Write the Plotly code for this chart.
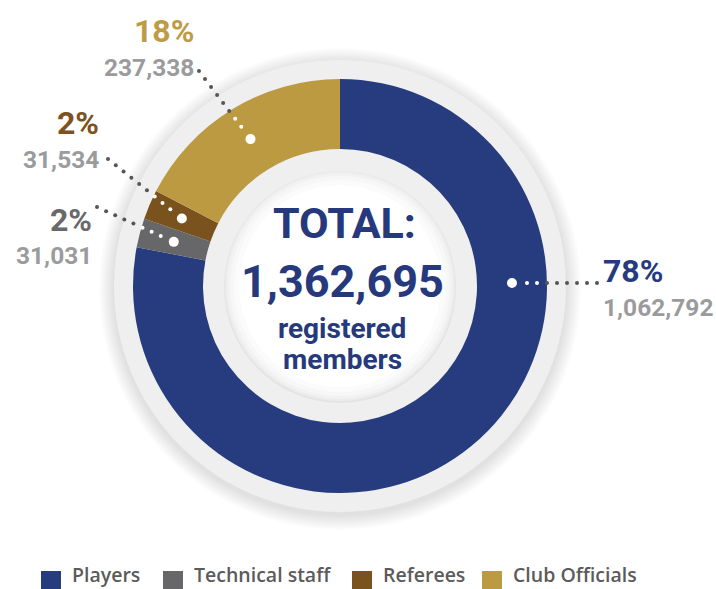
import math
import plotly.graph_objects as go

# Registered members by category
categories = ["Players", "Technical staff", "Referees", "Club Officials"]
members = [1062792, 31031, 31534, 237338]
pct_labels = ["78%", "2%", "2%", "18%"]

slice_colors = ["#263c7e", "#67676a", "#7a521e", "#bb9a42"]
pct_colors = ["#253a80", "#69696b", "#7b5220", "#bd9c45"]
num_color = "#9a9b9d"
total = sum(members)

W, H = 716, 589
CX, CY = 340, 286          # ring centre (px)
R_OUT, R_IN = 207, 137     # donut radii
R_RING = 226               # outer pale ring
R_CORE = 115               # white centre disc
R_MID = (R_OUT + R_IN) / 2

COND = "Roboto, DejaVu Sans Condensed, sans-serif"
LEG = "Open Sans, Noto Sans, sans-serif"

fig = go.Figure()

# empty trace so the pixel-space cartesian axes exist
fig.add_trace(go.Scatter(x=[], y=[], showlegend=False, hoverinfo="skip"))

fig.add_trace(go.Pie(
    labels=categories, values=members, hole=R_IN / R_OUT, sort=False,
    direction="clockwise", rotation=0,
    marker=dict(colors=slice_colors, line=dict(width=0)),
    textinfo="none", hoverinfo="label+value+percent", showlegend=False,
    domain=dict(x=[(CX - R_OUT) / W, (CX + R_OUT) / W],
                y=[1 - (CY + R_OUT) / H, 1 - (CY - R_OUT) / H]),
))

shapes = []


def circle(cx, cy, r, fill, opacity=1.0, layer="below"):
    shapes.append(dict(type="circle", xref="x", yref="y",
                       x0=cx - r, x1=cx + r, y0=cy - r, y1=cy + r,
                       fillcolor=fill, opacity=opacity,
                       line=dict(width=0), layer=layer))


# soft drop shadow around the outer ring
for k in range(10, 0, -1):
    circle(CX, CY + 3, R_RING + 1.5 * k, "#000000", 0.012)
circle(CX, CY, R_RING, "#efefef")
# white core with a faint inner shade
circle(CX, CY + 1, R_CORE + 1, "#e4e4e4")
for r, c in [(R_CORE, "#ececec"), (R_CORE - 2, "#f2f2f2"), (R_CORE - 5, "#f7f7f7"),
             (R_CORE - 9, "#fbfbfb"), (R_CORE - 14, "#ffffff")]:
    circle(CX, CY, r, c)

# slice anchor angles (deg clockwise from 12 o'clock)
angles = []
acc = 0
for v in members:
    angles.append((acc + v / 2) / total * 360)
    acc += v
angles[0] = 89  # players leader points to the 3 o'clock side


def polar(theta, r):
    t = math.radians(theta)
    return CX + r * math.sin(t), CY - r * math.cos(t)


# label layout: (pct x, pct y, num y, xanchor, leader start)
label_pos = {
    "Players": (601, 271, 307, "left", (597, 283)),
    "Technical staff": (94, 220, 255, "right", (97, 207)),
    "Referees": (101, 123, 159, "right", (108, 159)),
    "Club Officials": (196, 31, 67, "right", (199, 71)),
}

annotations = []
for i, cat in enumerate(categories):
    px, py, ny, xa, start = label_pos[cat]
    annotations.append(dict(x=px, y=py, xref="x", yref="y", text=pct_labels[i],
                            showarrow=False, xanchor=xa, yanchor="middle",
                            font=dict(family=COND, size=32, color=pct_colors[i], weight=700)))
    annotations.append(dict(x=px, y=ny, xref="x", yref="y", text=f"{members[i]:,}",
                            showarrow=False, xanchor=xa, yanchor="middle",
                            font=dict(family=COND, size=24.5, color=num_color, weight=700)))
    ax, ay = polar(angles[i], R_MID)
    sx, sy = start
    d = math.hypot(ax - sx, ay - sy)
    step = 10.0
    n = int((d - 7) / step)
    for k in range(n + 1):
        t = k * step / d
        x = sx + (ax - sx) * t
        y = sy + (ay - sy) * t
        inside = math.hypot(x - CX, y - CY) < R_OUT - 1
        circle(x, y, 2.0, "#ffffff" if inside else "#555555", layer="above")
    circle(ax, ay, 5, "#ffffff", layer="above")

# centre caption
centre_color = "#25397c"
annotations += [
    dict(x=344, y=223, text="TOTAL:", font=dict(family=COND, size=43, color=centre_color, weight=700)),
    dict(x=342, y=281, text=f"{total:,}", font=dict(family=COND, size=45, color=centre_color, weight=700)),
    dict(x=342, y=328, text="registered", font=dict(family=COND, size=28, color=centre_color, weight=700)),
    dict(x=342, y=359, text="members", font=dict(family=COND, size=28, color=centre_color, weight=700)),
]
for a in annotations[-4:]:
    a.update(xref="x", yref="y", showarrow=False, xanchor="center", yanchor="middle")

# legend row
legend_x = [41, 163, 352, 482]
for i, cat in enumerate(categories):
    x0 = legend_x[i]
    shapes.append(dict(type="rect", xref="x", yref="y", x0=x0, x1=x0 + 20, y0=571, y1=589,
                       fillcolor=slice_colors[i], line=dict(width=0), layer="above"))
    annotations.append(dict(x=x0 + 30, y=589, xref="x", yref="y", text=cat, showarrow=False,
                            xanchor="left", yanchor="bottom", borderpad=0,
                            font=dict(family=LEG, size=19.5, color="#5b5b5b", weight=600)))

fig.update_layout(
    width=W, height=H, margin=dict(l=0, r=0, t=0, b=0),
    paper_bgcolor="#ffffff", plot_bgcolor="rgba(0,0,0,0)",
    xaxis=dict(range=[0, W], visible=False, fixedrange=True, domain=[0, 1]),
    yaxis=dict(range=[H, 0], visible=False, fixedrange=True, domain=[0, 1]),
    shapes=shapes, annotations=annotations, showlegend=False,
)

fig.write_html("out.html")
